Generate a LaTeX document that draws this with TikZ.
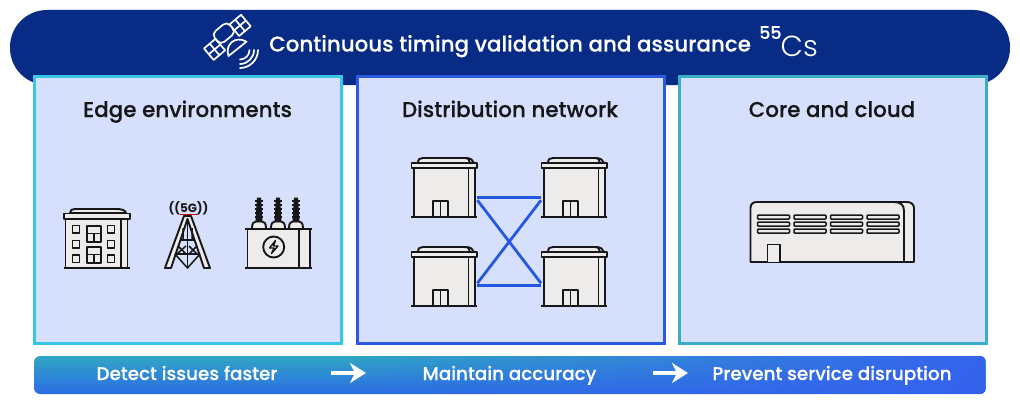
\documentclass[tikz,border=0pt]{standalone}
\usepackage{fontspec}
\setmainfont{Poppins}
\newfontfamily\medfont[FakeBold=0.2]{Poppins Medium}
\newfontfamily\lightfont{Poppins Light}
\usetikzlibrary{fadings,arrows.meta}
\definecolor{navy}{HTML}{082C86}
\definecolor{panelfill}{HTML}{D6DFFB}
\definecolor{edgecol}{HTML}{38C6E8}
\definecolor{distcol}{HTML}{2B5AE0}
\definecolor{corecol}{HTML}{38AECB}
\definecolor{icofill}{HTML}{EDECEA}
\definecolor{ink}{HTML}{17171A}
\definecolor{linkblue}{HTML}{2458E0}
\definecolor{barteal}{HTML}{30A6C4}
\definecolor{barblue}{HTML}{2C6CE4}
\definecolor{barend}{HTML}{3562EE}
\tikzset{
  x=1pt,y=-1pt,
  panel/.style={draw,line width=3pt,fill=panelfill},
  heading/.style={font=\medfont\fontsize{21.45}{24}\selectfont,text=ink,inner sep=0pt,anchor=base},
  barlabel/.style={font=\medfont\fontsize{18.35}{22}\selectfont,text=white,inner sep=0pt,anchor=base},
  ico/.style={draw=ink,line width=1.9pt,fill=icofill,line join=round},
  icl/.style={draw=ink,line width=1.9pt,line join=round},
  wht/.style={draw=white,line width=1.7pt,line join=round,line cap=round},
  link/.style={draw=linkblue,line width=2.8pt},
  flow/.style={draw=white,line width=3.4pt,-{Stealth[length=16pt,width=20pt,inset=5pt]}},
  site/.style={inner sep=0pt,minimum width=66pt,minimum height=59pt},
}
\newcommand{\dcsite}[2]{%
\begin{scope}[shift={(#1,#2)}]
  \draw[ico] (3,59) -- (3,10) -- (64,10) -- (64,59) -- cycle;
  \draw[ico] (7,5) .. controls (7,1) and (9,0) .. (12,0) -- (54,0) .. controls (60,0) and (62,2) .. (63,5) -- cycle;
  \draw[ico] (54,0) .. controls (58,0) and (58,2) .. (59,5);
  \draw[ico] (0.5,5) rectangle (66,10);
  \draw[icl] (57.5,10) -- (57.5,59);
  \draw[icl] (0,59) -- (66,59);
  \draw[ico] (22,43) rectangle (37,59);
  \draw[icl] (29.5,43) -- (29.5,59);
\end{scope}}
\begin{document}
\begin{tikzpicture}
\useasboundingbox (0,0) rectangle (1020,404);
\fill[white] (0,0) rectangle (1020,404);
% banner
\fill[navy,rounded corners=37pt] (10,10) rectangle (1010,85);
% panels
\node[panel,draw=edgecol,minimum width=307pt,minimum height=266pt,inner sep=0pt] (edge) at (187.5,210) {};
\node[panel,draw=distcol,minimum width=307pt,minimum height=266pt,inner sep=0pt] (dist) at (510.5,210) {};
\node[panel,draw=corecol,minimum width=307pt,minimum height=266pt,inner sep=0pt] (core) at (832.5,210) {};
% banner text
\node[font=\medfont\fontsize{21.4}{24}\selectfont,text=white,inner sep=0pt,anchor=base west] (title) at (269,51.5) {Continuous timing validation and assurance};
\node[font=\medfont\fontsize{17.5}{18}\selectfont,text=white,inner sep=0pt,anchor=base west] (fiftyfive) at (759,39) {55};
\node[font=\lightfont\fontsize{29}{30}\selectfont,text=white,inner sep=0pt,anchor=base west] (cs) at (780.5,57) {Cs};
% satellite
\begin{scope}[shift={(227,37)},rotate=40]
  \draw[wht] (10,-8) rectangle (25,7);
  \draw[wht] (17.5,-8) -- (17.5,7) (10,-0.5) -- (25,-0.5);
  \draw[wht] (-25,-6) rectangle (-10,9);
  \draw[wht] (-17.5,-6) -- (-17.5,9) (-25,1.5) -- (-10,1.5);
  \draw[wht,rounded corners=5pt] (-10,-12) rectangle (10,2);
\end{scope}
\draw[wht,fill=navy] (228.5,56) .. controls (224.5,45) and (235,35) .. (246.5,41.7) -- cycle;
\foreach \r in {9.5,14,18} {
  \draw[wht] (240+\r,50) .. controls (240+\r,50+.55*\r) and (240+.55*\r,50+\r) .. (240,50+\r);
}
% headings
\node[heading] (h1) at (187.5,117) {Edge environments};
\node[heading] (h2) at (510,117) {Distribution network};
\node[heading] (h3) at (832,117) {Core and cloud};
% office
\draw[ico] (65.5,268) -- (65.5,219) -- (127.5,219) -- (127.5,268) -- cycle;
\draw[ico] (70,213) .. controls (70,210) and (72,209) .. (75,209) -- (116,209) .. controls (122,209) and (125,210) .. (126,213) -- cycle;
\draw[ico] (64,213.5) rectangle (130,219);
\draw[icl] (121,219) -- (121,268);
\draw[icl] (64,268) -- (130,268);
\foreach \wy in {225.5,240.5,255} {
  \draw[icl,fill=icofill] (72.5,\wy) rectangle (79.5,\wy+7.5);
  \draw[icl,fill=icofill] (107.5,\wy) rectangle (114.5,\wy+7.5);
}
\foreach \wy in {226,247} {
  \draw[icl,fill=icofill] (87,\wy) rectangle (101,\wy+16);
  \draw[icl] (87,\wy+7.5) -- (101,\wy+7.5) (94,\wy+7.5) -- (94,\wy+16);
}
% tower
\draw[ico,line width=1.9pt] (184,216) -- (191,216) -- (210,268) -- (204,268) -- (187.5,219) -- (171,268) -- (165,268) -- cycle;
\draw[icl,line width=1.8pt] (187.5,219) -- (187.5,268);
\draw[icl,line width=1.7pt] (180,240) -- (195,240) (175,254) -- (200,254);
\draw[icl,line width=1.5pt] (183,228) -- (183,240) (192,228) -- (192,240) (175,254) -- (187.5,268) -- (200,254) (178,246) -- (186,254) (186,246) -- (177,254) (189,246) -- (197,254) (197,246) -- (189,254);
\node[font=\bfseries\fontsize{12}{12}\selectfont,text=ink,inner sep=0pt] (fiveg) at (188.5,208.5) {((5G))};
\draw[red!80!black,line width=1.3pt] (180,214.5) -- (198,214.5);
% transformer
\foreach \bx in {259,278,296} {
  \draw[ico] (\bx-7,228) .. controls (\bx-7,223) and (\bx-5,221.5) .. (\bx-3,221.5) -- (\bx+3,221.5) .. controls (\bx+5,221.5) and (\bx+7,223) .. (\bx+7,228);
  \fill[ink] (\bx-2,197.5) -- (\bx+2,197.5) -- (\bx+3.5,222) -- (\bx-3.5,222) -- cycle;
  \foreach \fy in {201,205,209,213,217} { \draw[ink,line width=1.3pt] (\bx-4,\fy) -- (\bx+4,\fy); }
}
\draw[ico] (247.5,229) rectangle (310,268);
\draw[icl] (245,229) -- (312,229) (245,268) -- (312,268) (299,229) -- (299,268);
\draw[icl,fill=icofill] (273.7,247) circle (10.5);
\draw[icl,line width=1.4pt] (275.5,240.5) -- (269.5,248) -- (274,248) -- (271.5,253.5) -- (278,246) -- (273.5,246) -- cycle;
% network
\node[site,anchor=north west] (s1) at (411,158) {};
\node[site,anchor=north west] (s2) at (541,158) {};
\node[site,anchor=north west] (s3) at (411,247) {};
\node[site,anchor=north west] (s4) at (541,247) {};
\draw[link] ([yshift=-9.5pt]s1.east) -- ([yshift=-9.5pt]s2.west);
\draw[link] ([yshift=-8.5pt]s3.east) -- ([yshift=-8.5pt]s4.west);
\draw[link] ([yshift=-12.5pt]s1.east) -- ([yshift=-6.5pt]s4.west);
\draw[link] ([yshift=-12.5pt]s2.west) -- ([yshift=-6.5pt]s3.east);
\dcsite{411}{158}
\dcsite{541}{158}
\dcsite{411}{247}
\dcsite{541}{247}
% server
\draw[ico] (750.5,262) -- (750.5,208) .. controls (750.5,204) and (753,202) .. (757,202) -- (907,202) .. controls (911,202) and (914,204.5) .. (914,208) -- (914,262) -- cycle;
\draw[icl] (893,202) .. controls (901,202) and (904,205) .. (904,211) -- (904,262);
\foreach \sx in {757.5,794,830.5,867} {
  \foreach \sy in {215,222,229} {
    \draw[icl,fill=icofill,line width=1.5pt,rounded corners=1pt] (\sx,\sy) rectangle (\sx+32,\sy+4.2);
  }
}
\draw[icl,fill=icofill] (767.5,262) -- (767.5,244.5) -- (780,244.5) -- (780,262);
% bottom bar
\begin{scope}
  \clip[rounded corners=6pt] (34,356) rectangle (986,394);
  \shade[top color=barteal,bottom color=barblue] (34,356) rectangle (986,394);
  \fill[barend,path fading=west] (350,356) rectangle (986,394);
\end{scope}
\node[barlabel] (b1) at (187,380) {Detect issues faster};
\node[barlabel] (b2) at (509.5,380) {Maintain accuracy};
\node[barlabel] (b3) at (832,380) {Prevent service disruption};
\coordinate (f1a) at (331,373); \coordinate (f1b) at (366,373);
\coordinate (f2a) at (653,373); \coordinate (f2b) at (688,373);
\draw[flow] (f1a) -- (f1b);
\draw[flow] (f2a) -- (f2b);
\end{tikzpicture}
\end{document}
